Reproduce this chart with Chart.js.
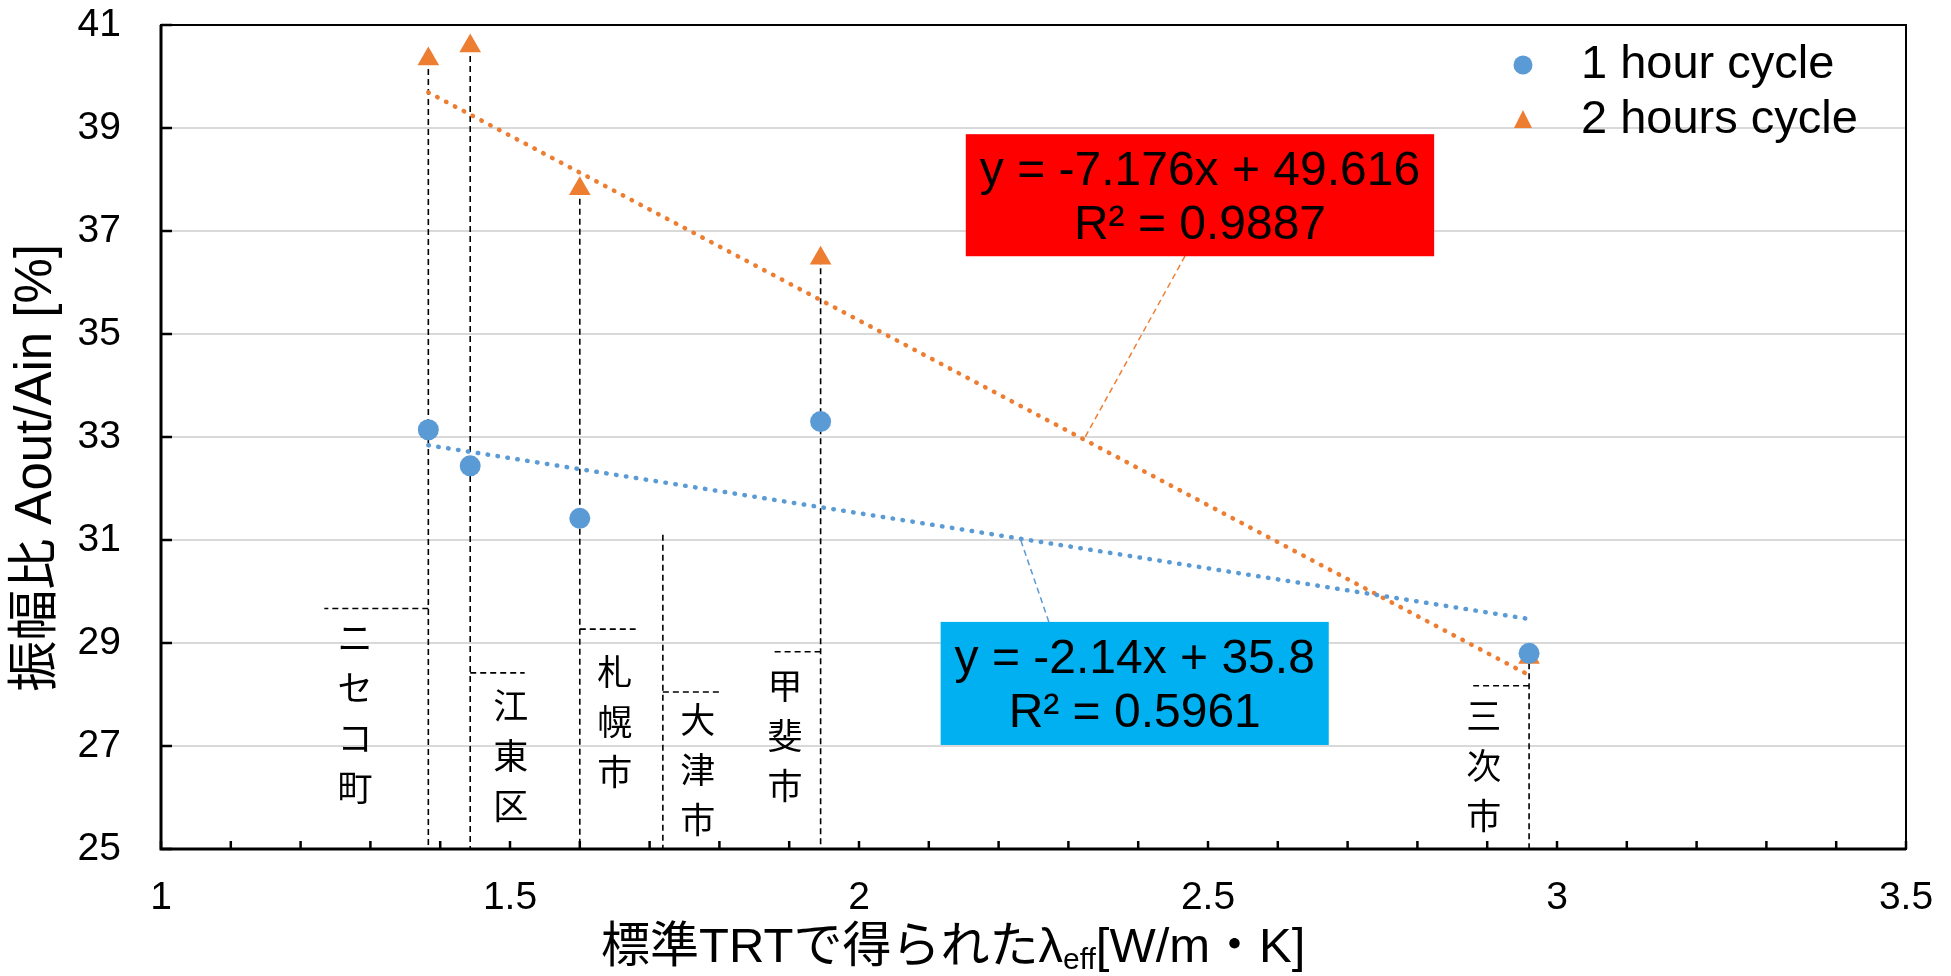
<!DOCTYPE html>
<html>
<head>
<meta charset="utf-8">
<script src="https://cdn.jsdelivr.net/npm/chart.js@4/dist/chart.umd.min.js"></script>
<style>
  html, body { margin: 0; padding: 0; background: #fff; }
  #wrap { width: 1951px; height: 976px; }
</style>
</head>
<body>
<div id="wrap"><canvas id="chart" width="1951" height="976"></canvas></div>
<script>
// ---- data -------------------------------------------------------------
const sites      = ['ニセコ町', '江東区', '札幌市', '大津市', '甲斐市', '三次市'];
const lambdaEff  = [1.383, 1.443, 1.600, 1.719, 1.945, 2.960];   // W/(m·K)
const ampRatio1h = [33.14, 32.44, 31.42, null, 33.30, 28.80];    // %
const ampRatio2h = [40.34, 40.59, 37.82, null, 36.47, 28.72];    // %
const guideTop   = [null, null, null, 31.10, null, null];        // drop-line top where no measurement

const seriesNames    = ['1 hour cycle', '2 hours cycle'];
const trendSlope     = [-2.14, -7.176];
const trendIntercept = [35.8, 49.616];
const trendR2        = [0.5961, 0.9887];

const xTickLabels = [1, 1.5, 2, 2.5, 3, 3.5];
const yTickValues = [25, 27, 29, 31, 33, 35, 37, 39, 41];

// ---- styling / annotation layout (axis units) ---------------------------
const COLORS = { blue: '#5B9BD5', orange: '#ED7D31', grid: '#D9D9D9' };
const SANS = '"Liberation Sans", "Noto Sans CJK JP", sans-serif';
const CJK  = '"Noto Sans CJK JP", "Noto Sans CJK SC", sans-serif';

const siteLabelLayout = {
  x:      [1.278, 1.501, 1.650, 1.769, 1.894, 2.895],
  yFirst: [29.10, 27.78, 28.44, 27.51, 28.17, 27.58],
  tickY:  [29.67, 28.42, 29.27, 28.05, 28.83, 28.17],
  tickTo: [1.234, 1.521, 1.680, 1.805, 1.874, 2.880]
};
const eqBoxLayout = [
  { x0: 2.117, x1: 2.673, yTop: 29.41, yBot: 27.02, fill: '#00B0F0', leadFrom: 2.272, leadTo: 2.231 },
  { x0: 2.153, x1: 2.824, yTop: 38.88, yBot: 36.51, fill: '#FF0000', leadFrom: 2.467, leadTo: 2.322 }
];
const xTitleCenter = 2.135;
const yTitleCenter = 32.4;

// ---- helpers ----------------------------------------------------------
const toPoints = ys => lambdaEff.map((x, i) => ({ x, y: ys[i] })).filter(p => p.y !== null);
const measuredX = lambdaEff.filter((x, i) => ampRatio1h[i] !== null);
const trendLine = k => {
  const x0 = Math.min(...measuredX), x1 = Math.max(...measuredX);
  return [x0, x1].map(x => ({ x, y: trendSlope[k] * x + trendIntercept[k] }));
};
const isLabelled = v => xTickLabels.some(t => Math.abs(t - v) < 1e-6);

// ---- drawing extras -----------------------------------------------------
const extras = {
  id: 'extras',
  beforeDatasetsDraw(chart) {
    const { ctx, scales: { x, y } } = chart;
    ctx.save();
    ctx.strokeStyle = '#000';
    ctx.lineWidth = 1.6;
    ctx.setLineDash([6, 4]);
    sites.forEach((s, i) => {
      const vals = [ampRatio1h[i], ampRatio2h[i], guideTop[i]].filter(v => v !== null);
      const top = Math.max(...vals);
      const px = x.getPixelForValue(lambdaEff[i]);
      ctx.beginPath();
      ctx.moveTo(px, y.getPixelForValue(top));
      ctx.lineTo(px, y.getPixelForValue(25));
      ctx.stroke();
      const ty = y.getPixelForValue(siteLabelLayout.tickY[i]);
      ctx.beginPath();
      ctx.moveTo(px, ty);
      ctx.lineTo(x.getPixelForValue(siteLabelLayout.tickTo[i]), ty);
      ctx.stroke();
    });
    ctx.restore();
  },
  afterDatasetsDraw(chart) {
    const { ctx, scales: { x, y } } = chart;
    ctx.save();
    // equation boxes with leader lines
    eqBoxLayout.forEach((b, k) => {
      const color = k === 0 ? COLORS.blue : COLORS.orange;
      const lineY = trendSlope[k] * b.leadTo + trendIntercept[k];
      const edge = lineY > b.yTop ? b.yTop : b.yBot;
      ctx.strokeStyle = color;
      ctx.lineWidth = 1.5;
      ctx.setLineDash([6, 4]);
      ctx.beginPath();
      ctx.moveTo(x.getPixelForValue(b.leadFrom), y.getPixelForValue(edge));
      ctx.lineTo(x.getPixelForValue(b.leadTo), y.getPixelForValue(lineY));
      ctx.stroke();
      ctx.setLineDash([]);
      const L = x.getPixelForValue(b.x0), R = x.getPixelForValue(b.x1);
      const T = y.getPixelForValue(b.yTop), B = y.getPixelForValue(b.yBot);
      ctx.fillStyle = b.fill;
      ctx.fillRect(L, T, R - L, B - T);
      ctx.fillStyle = '#000';
      ctx.font = `48px ${SANS}`;
      ctx.textAlign = 'center';
      ctx.textBaseline = 'alphabetic';
      const cx = (L + R) / 2;
      ctx.fillText(`y = ${trendSlope[k]}x + ${trendIntercept[k]}`, cx, T + 51);
      ctx.fillText(`R² = ${trendR2[k]}`, cx, T + 105);
    });
    // vertical site names
    ctx.fillStyle = '#000';
    ctx.font = `35px ${CJK}`;
    ctx.textAlign = 'center';
    ctx.textBaseline = 'middle';
    sites.forEach((s, i) => {
      const px = x.getPixelForValue(siteLabelLayout.x[i]);
      const py = y.getPixelForValue(siteLabelLayout.yFirst[i]);
      [...s].forEach((ch, j) => ctx.fillText(ch, px, py + j * 50));
    });
    ctx.restore();
  },
  afterDraw(chart) {
    const { ctx, chartArea: a, scales: { x, y } } = chart;
    ctx.save();
    // plot frame
    ctx.strokeStyle = '#000';
    ctx.lineWidth = 2;
    ctx.strokeRect(a.left, a.top, a.right - a.left, a.bottom - a.top);
    ctx.lineWidth = 3;
    ctx.beginPath();
    ctx.moveTo(a.left, a.top); ctx.lineTo(a.left, a.bottom); ctx.lineTo(a.right, a.bottom);
    ctx.stroke();
    // inside tick marks
    ctx.lineWidth = 2.5;
    x.ticks.forEach(t => {
      const px = x.getPixelForValue(t.value);
      ctx.beginPath(); ctx.moveTo(px, a.bottom); ctx.lineTo(px, a.bottom - 8); ctx.stroke();
    });
    yTickValues.forEach(v => {
      const py = y.getPixelForValue(v);
      ctx.beginPath(); ctx.moveTo(a.left, py); ctx.lineTo(a.left + 11, py); ctx.stroke();
    });
    // axis titles
    ctx.fillStyle = '#000';
    ctx.textBaseline = 'middle';
    ctx.textAlign = 'center';
    ctx.save();
    ctx.translate(37, y.getPixelForValue(yTitleCenter));
    ctx.rotate(-Math.PI / 2);
    ctx.font = `51px ${SANS}`;
    ctx.fillText('振幅比 Aout/Ain [%]', 0, 0);
    ctx.restore();

    const partA = '標準TRTで得られたλ', partSub = 'eff', partC = '[W/m・K]';
    ctx.textAlign = 'left';
    ctx.textBaseline = 'alphabetic';
    ctx.font = `49px ${SANS}`;
    const wA = ctx.measureText(partA).width, wC = ctx.measureText(partC).width;
    ctx.font = `30px ${SANS}`;
    const wS = ctx.measureText(partSub).width;
    let tx = x.getPixelForValue(xTitleCenter) - (wA + wS + wC) / 2;
    const base = a.bottom + 113;
    ctx.font = `49px ${SANS}`;
    ctx.fillText(partA, tx, base); tx += wA;
    ctx.font = `30px ${SANS}`;
    ctx.fillText(partSub, tx, base + 7); tx += wS;
    ctx.font = `49px ${SANS}`;
    ctx.fillText(partC, tx, base);

    // legend
    const mx = a.right - 383;
    const rows = [a.top + 40, a.top + 95];
    ctx.font = `47px ${SANS}`;
    ctx.textBaseline = 'middle';
    rows.forEach((ry, k) => {
      ctx.fillStyle = k === 0 ? COLORS.blue : COLORS.orange;
      ctx.beginPath();
      if (k === 0) {
        ctx.arc(mx, ry, 9.5, 0, Math.PI * 2);
      } else {
        ctx.moveTo(mx, ry - 10); ctx.lineTo(mx + 9, ry + 8); ctx.lineTo(mx - 9, ry + 8); ctx.closePath();
      }
      ctx.fill();
      ctx.fillStyle = '#000';
      ctx.fillText(seriesNames[k], mx + 58, ry);
    });
    ctx.restore();
  }
};

new Chart(document.getElementById('chart'), {
  type: 'scatter',
  data: {
    datasets: [
      {
        label: seriesNames[0], data: toPoints(ampRatio1h), order: 0,
        pointStyle: 'circle', pointRadius: 10.5, pointHoverRadius: 10.5,
        backgroundColor: COLORS.blue, borderWidth: 0
      },
      {
        label: seriesNames[1], data: toPoints(ampRatio2h), order: 0,
        pointStyle: 'triangle', pointRadius: 12.5, pointHoverRadius: 12.5,
        backgroundColor: COLORS.orange, borderWidth: 0
      },
      {
        label: 'trend 1h', data: trendLine(0), order: 1, showLine: true,
        pointRadius: 0, borderColor: COLORS.blue, borderWidth: 4.5,
        borderDash: [0.5, 9.5], borderCapStyle: 'round'
      },
      {
        label: 'trend 2h', data: trendLine(1), order: 1, showLine: true,
        pointRadius: 0, borderColor: COLORS.orange, borderWidth: 4.5,
        borderDash: [0.5, 9.5], borderCapStyle: 'round'
      }
    ]
  },
  options: {
    responsive: false,
    animation: false,
    events: [],
    layout: { padding: { top: 25, right: 45, left: 0, bottom: 0 } },
    plugins: { legend: { display: false }, tooltip: { enabled: false } },
    scales: {
      x: {
        type: 'linear', min: 1, max: 3.5,
        grid: { display: false },
        border: { display: false },
        ticks: {
          stepSize: 0.1, autoSkip: false, maxRotation: 0, padding: 18,
          color: '#000', font: { family: SANS, size: 39 },
          callback: v => isLabelled(v) ? String(Math.round(v * 10) / 10) : ''
        },
        afterFit: s => { s.height = 127; s.paddingLeft = 0; s.paddingRight = 0; }
      },
      y: {
        min: 25, max: 41,
        grid: { color: COLORS.grid, lineWidth: 2, drawTicks: false },
        border: { display: false },
        ticks: {
          stepSize: 2, padding: 40, color: '#000', font: { family: SANS, size: 39 }
        },
        afterFit: s => { s.width = 161; s.paddingTop = 0; s.paddingBottom = 0; }
      }
    }
  },
  plugins: [extras]
});
</script>
</body>
</html>
